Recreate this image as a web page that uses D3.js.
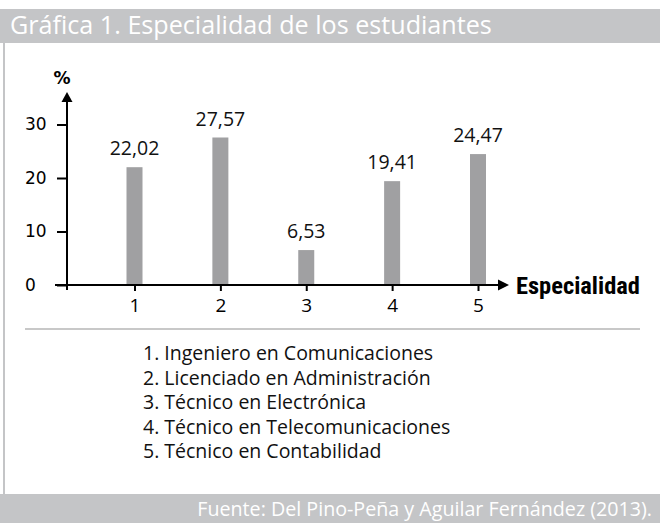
<!DOCTYPE html>
<html>
<head>
<meta charset="utf-8">
<script src="https://cdn.jsdelivr.net/npm/d3@7"></script>
<style>
body{margin:0;background:#fff;}
svg{display:block;}
</style>
</head>
<body>
<svg id="svg" width="660" height="523"></svg>
<script>
var categories=["1","2","3","4","5"];
var values=[22.02,27.57,6.53,19.41,24.47];
var labels=["22,02","27,57","6,53","19,41","24,47"];
var yTicks=[0,10,20,30];
var legendItems=["1. Ingeniero en Comunicaciones","2. Licenciado en Administración","3. Técnico en Electrónica","4. Técnico en Telecomunicaciones","5. Técnico en Contabilidad"];
var title="Gráfica 1. Especialidad de los estudiantes";
var source="Fuente: Del Pino-Peña y Aguilar Fernández (2013).";

var svg=d3.select("#svg");
var gray="#c4c5c7";
var sans="'Open Sans',sans-serif";
var narrow="'Liberation Sans Narrow','Roboto Condensed','Open Sans',sans-serif";

// shrink or grow a text's font size so it spans the given width
function fit(sel,w){
    var fs=parseFloat(sel.style("font-size"));
    var len=sel.node().getComputedTextLength();
    sel.style("font-size",(fs*w/len)+"px");
}

// header and footer bands
svg.append("rect").attr("x",0).attr("y",9).attr("width",660).attr("height",34).attr("fill",gray);
var t=svg.append("text").attr("x",10).attr("y",34).text(title)
    .style("font-family",sans).style("font-size","22px").style("fill","#fff");
fit(t,482);
svg.append("rect").attr("x",3).attr("y",43).attr("width",2).attr("height",451).attr("fill",gray);
svg.append("rect").attr("x",0).attr("y",494).attr("width",660).attr("height",29).attr("fill",gray);
var s=svg.append("text").attr("x",652).attr("y",516).attr("text-anchor","end").text(source)
    .style("font-family",sans).style("font-size","20px").style("fill","#fff");
fit(s,455);

var x=d3.scalePoint().domain(categories).range([134.5,478]);
var y=d3.scaleLinear().domain([0,30]).range([285,124.5]);

// bars
svg.selectAll(".bar").data(values).enter().append("rect")
    .attr("class","bar")
    .attr("x",(d,i)=>x(categories[i])-8)
    .attr("width",16)
    .attr("y",d=>y(d))
    .attr("height",d=>y(0)-y(d))
    .attr("fill","#a0a0a2");

svg.selectAll(".vlab").data(values).enter().append("text")
    .attr("x",(d,i)=>x(categories[i]))
    .attr("y",d=>y(d)-12)
    .attr("text-anchor","middle")
    .text((d,i)=>labels[i])
    .style("font-family",sans).style("font-size","19.5px").style("fill","#111");

// axes
var ax=svg.append("g").attr("stroke","#000").attr("stroke-width",2);
ax.append("line").attr("x1",67).attr("x2",67).attr("y1",290).attr("y2",100);
ax.append("line").attr("x1",55).attr("x2",498).attr("y1",285).attr("y2",285);
svg.append("path").attr("d","M67,92 L61.5,102 L72.5,102 Z").attr("fill","#000");
svg.append("path").attr("d","M509,285 L498,279.5 L498,290.5 Z").attr("fill","#000");

var yAxis=d3.axisLeft(y).tickValues(yTicks).tickSize(10).tickFormat(d3.format("d"));
var gy=svg.append("g").attr("transform","translate(67,0)").call(yAxis);
gy.select(".domain").remove();
gy.selectAll(".tick line").attr("stroke-width",2);
gy.selectAll(".tick text").attr("x",-42).attr("text-anchor","start")
    .style("font-family","'DejaVu Sans',sans-serif").style("font-size","17px").style("fill","#000");

var xAxis=d3.axisBottom(x).tickSize(6).tickPadding(8);
var gx=svg.append("g").attr("transform","translate(0,285)").call(xAxis);
gx.select(".domain").remove();
gx.selectAll(".tick line").attr("stroke-width",2);
gx.selectAll(".tick text")
    .style("font-family",sans).style("font-size","19px").style("fill","#000");

svg.append("text").attr("x",62).attr("y",84).attr("text-anchor","middle").text("%")
    .style("font-family","'DejaVu Sans',sans-serif").style("font-weight","bold").style("font-size","17px");
var e=svg.append("text").attr("x",516).attr("y",294).text("Especialidad")
    .style("font-family",narrow).style("font-weight","bold").style("font-size","23px");
fit(e,124);

// separator and legend
svg.append("rect").attr("x",25).attr("y",328).attr("width",615).attr("height",2).attr("fill","#c8c8c8");
svg.selectAll(".leg").data(legendItems).enter().append("text")
    .attr("x",143).attr("y",(d,i)=>360+i*24.5).text(d=>d)
    .style("font-family",sans).style("font-size","19.5px").style("fill","#111");
</script>
</body>
</html>
